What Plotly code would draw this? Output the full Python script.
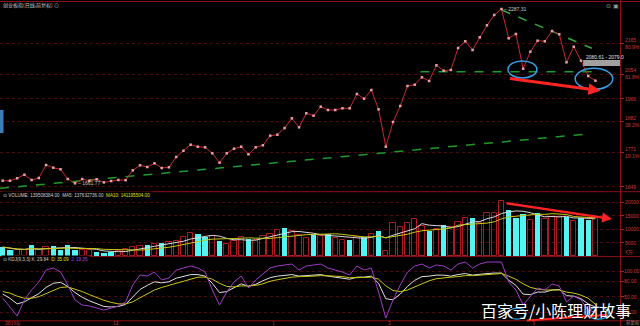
import plotly.graph_objects as go
import pandas as pd
import numpy as np

# ---------------- data ----------------
close = [1671.1, 1671.0, 1679.7, 1692.6, 1673.6, 1680.8, 1727.4, 1717.7, 1712.0, 1677.2,
         1661.77, 1677.0, 1671.0, 1676.1, 1665.0, 1670.0, 1673.6, 1673.0, 1708.4, 1726.3,
         1720.2, 1733.5, 1716.6, 1719.2, 1756.1, 1778.7, 1800.3, 1793.1, 1790.9, 1769.4,
         1735.7, 1769.4, 1785.9, 1793.1, 1765.8, 1790.9, 1798.1, 1832.6, 1836.2, 1860.2,
         1895.0, 1862.7, 1913.0, 1904.4, 1936.7, 1924.8, 1924.8, 1930.9, 1930.9, 1982.2,
         1965.4, 1996.6, 1927.3, 1793.1, 1881.7, 1939.2, 2010.9, 2015.6, 2042.2, 2028.9,
         2085.2, 2065.9, 2068.4, 2147.3, 2171.4, 2140.2, 2185.7, 2228.8, 2265.8, 2287.31,
         2182.1, 2197.6, 2073.0, 2134.0, 2173.5, 2171.4, 2208.3, 2196.5, 2096.0, 2152.0,
         2101.7, 2046.8, 2030.0]

volume = [3300, 2300, 2100, 2100, 3900, 2100, 3300, 3800, 2100, 4100,
          2400, 2100, 2300, 1400, 1100, 1400, 1800, 2600, 3300, 3600,
          4100, 4500, 5000, 5100, 5600, 7100, 8600, 8100, 6900, 7500,
          5700, 4500, 5400, 7100, 6300, 6000, 7500, 8100, 9800, 10400,
          9300, 7800, 6600, 8100, 7500, 8000, 6600, 6000, 6000, 7100,
          7200, 8100, 9300, 1800, 12100, 10900, 12100, 13600, 11200, 9300,
          10100, 11300, 10900, 12700, 13900, 14200, 12100, 16100, 16100, 20200,
          17200, 13900, 15400, 13500, 16000, 13800, 14500, 14580, 14600, 12800,
          14100, 13365, 13951]

down_days = [0, 1, 4, 7, 8, 9, 10, 13, 14, 15, 20, 22, 27, 28, 30, 34, 39, 43, 45,
             48, 50, 52, 59, 61, 65, 70, 71, 72, 74, 78, 80, 81]

kdj_k = [55, 47, 36, 40, 48, 56, 68, 76, 78, 70, 58, 49, 42, 36, 31, 30, 31, 35, 50, 64,
         72, 79, 77, 79, 86, 90, 93, 93, 90, 76, 58, 60, 67, 75, 70, 74, 81, 87, 90, 92,
         93, 90, 91, 92, 93, 90, 88, 86, 84, 88, 88, 90, 76, 46, 44, 55, 70, 82, 89, 90,
         92, 92, 90, 93, 95, 92, 94, 95, 96, 96, 82, 72, 55, 54, 59, 59, 63, 64, 52, 51,
         46, 36, 29.84]
kdj_d = [60, 57, 51, 47, 47, 50, 56, 62, 68, 69, 65, 60, 54, 48, 43, 39, 36, 36, 40, 48,
         56, 63, 68, 72, 77, 81, 85, 88, 88, 84, 76, 70, 69, 71, 71, 72, 75, 80, 83, 86,
         88, 89, 89, 90, 91, 91, 90, 89, 87, 87, 88, 88, 84, 71, 62, 60, 63, 69, 76, 81,
         85, 87, 88, 89, 91, 91, 92, 93, 94, 95, 90, 84, 75, 68, 65, 63, 63, 63, 59, 57,
         53, 47, 35.09]
kdj_j = [47.5, 30, 12.5, 43.6, 63, 78.6, 101.9, 105.8, 98, 72.8, 43.6, 33.9, 31.9, 28, 24.1,
         28, 31.9, 39.7, 72.8, 92.2, 90.3, 98, 82.5, 86.4, 101.9, 105.8, 109.7, 105.8, 98, 63,
         33.9, 59.1, 78.6, 90.3, 66.9, 82.5, 94.2, 105.8, 109.7, 111.7, 113.6, 101.9, 109.7,
         111.7, 113.6, 105.8, 101.9, 98, 92.2, 109.7, 101.9, 105.8, 59.1, 8.6, 43.6, 72.8, 98,
         109.7, 113.6, 105.8, 111.7, 109.7, 101.9, 113.6, 117.5, 105.8, 113.6, 117.5, 117.5,
         117.5, 78.6, 63, 33.9, 51.4, 66.9, 63, 74.7, 70.8, 39.7, 51.4, 43.6, 24.1, 19.35]

x_tick_idx = [0, 15, 37, 53, 73]
x_tick_txt = ["2019年", "12", "1", "2", "3"]

price_ticks = [2165, 2054, 1966, 1882, 1771, 1649]
price_tick_txt = ["2165<br>80.9%", "2054<br>61.8%", "1966", "1882<br>38.2%", "1771<br>19.1%", "1649"]
vol_ticks = [20000, 15000, 10000, 5000]
kdj_ticks = [100, 80, 50, 20]

# drawn trend lines (index, price)
support_x, support_y = [-0.37, 80.4], [1643.8, 1837.6]
neck_x, neck_y = [57.8, 82.4], [2062.3, 2062.3]
resist_x, resist_y = [69.05, 81.5], [2283.7, 2146.2]

n = len(close)
idx = list(range(n))

# volume moving averages
vs = pd.Series(volume, dtype=float)
ma5 = vs.rolling(5, min_periods=1).mean()
ma10 = vs.rolling(10, min_periods=1).mean()

# ---------------- figure ----------------
W, H = 640, 326
def py(pix):  # pixel row -> paper y
    return 1 - pix / H

XR = [-0.374, 85.4]
XD = [0, 620 / W]

fig = go.Figure()

RED = "#c82830"
fig.add_trace(go.Scatter(x=support_x, y=support_y, mode="lines",
                         line=dict(color="#1f9a2a", width=1.5, dash="dash"), xaxis="x", yaxis="y"))
fig.add_trace(go.Scatter(x=neck_x, y=neck_y, mode="lines",
                         line=dict(color="#1f9a2a", width=1.5, dash="dash"), xaxis="x", yaxis="y"))
fig.add_trace(go.Scatter(x=resist_x, y=resist_y, mode="lines",
                         line=dict(color="#3aa83a", width=1.5, dash="dash"), xaxis="x", yaxis="y"))
fig.add_trace(go.Scatter(x=idx, y=close, mode="lines+markers",
                         line=dict(color=RED, width=1),
                         marker=dict(symbol="square", size=2.5, color="#eaa0a4", line=dict(width=0)),
                         xaxis="x", yaxis="y"))

up_x = [i for i in idx if i not in down_days]
dn_x = [i for i in idx if i in down_days]
fig.add_trace(go.Bar(x=up_x, y=[volume[i] for i in up_x], width=0.74,
                     marker=dict(color="rgba(0,0,0,0)", line=dict(color="#a81c22", width=1)),
                     xaxis="x2", yaxis="y2"))
fig.add_trace(go.Bar(x=dn_x, y=[volume[i] for i in dn_x], width=0.74,
                     marker=dict(color="#54f4f4", line=dict(width=0)),
                     xaxis="x2", yaxis="y2"))
fig.add_trace(go.Scatter(x=idx, y=ma5, mode="lines", line=dict(color="#d8d8d8", width=1),
                         xaxis="x2", yaxis="y2"))
fig.add_trace(go.Scatter(x=idx, y=ma10, mode="lines", line=dict(color="#c8c814", width=1),
                         xaxis="x2", yaxis="y2"))

fig.add_trace(go.Scatter(x=idx, y=kdj_k, mode="lines", line=dict(color="#e0e0e0", width=1),
                         xaxis="x3", yaxis="y3"))
fig.add_trace(go.Scatter(x=idx, y=kdj_d, mode="lines", line=dict(color="#c8c814", width=1),
                         xaxis="x3", yaxis="y3"))
fig.add_trace(go.Scatter(x=idx, y=kdj_j, mode="lines", line=dict(color="#a03cc8", width=1),
                         xaxis="x3", yaxis="y3"))

grid = dict(showgrid=True, gridcolor="#4a0c10", griddash="dot", gridwidth=1)
common_y = dict(side="right", zeroline=False, showticklabels=False, ticks="outside",
                ticklen=3, tickcolor="#b02020", showline=False, fixedrange=True)
common_x = dict(range=XR, domain=XD, showgrid=False, zeroline=False, showticklabels=False,
                showline=False, fixedrange=True)

fig.update_layout(
    width=W, height=H, margin=dict(l=0, r=0, t=0, b=0),
    paper_bgcolor="#000000", plot_bgcolor="#000000", showlegend=False,
    barmode="overlay", bargap=0,
    xaxis=dict(anchor="y", **common_x),
    xaxis2=dict(anchor="y2", **common_x),
    xaxis3=dict(anchor="y3", **common_x),
    yaxis=dict(anchor="x", domain=[py(191), py(3)], range=[1634.1, 2308.8],
               tickvals=price_ticks, **grid, **common_y),
    yaxis2=dict(anchor="x2", domain=[py(256), py(192)], range=[0, 23704],
                tickvals=vol_ticks, **grid, **common_y),
    yaxis3=dict(anchor="x3", domain=[py(321), py(258)], range=[2.7, 125.3],
                tickvals=kdj_ticks, **grid, **common_y),
)

shapes = []
line_col = "#8c1016"
for pix in [1.5, 191.7, 256.6, 320.8]:
    shapes.append(dict(type="line", xref="paper", yref="paper", x0=0, x1=1, y0=py(pix), y1=py(pix),
                       line=dict(color=line_col, width=1)))
shapes.append(dict(type="line", xref="paper", yref="paper", x0=620.5 / W, x1=620.5 / W, y0=0, y1=1,
                   line=dict(color=line_col, width=1)))
shapes.append(dict(type="rect", xref="paper", yref="paper", x0=0, x1=3.5 / W, y0=py(133), y1=py(110),
                   fillcolor="#3c7cb8", line=dict(width=0)))
BLUE = "#3a9ee6"
shapes.append(dict(type="circle", xref="x", yref="y", x0=69.9, x1=73.9, y0=2039.7, y1=2100.7,
                   line=dict(color=BLUE, width=1.5)))
shapes.append(dict(type="circle", xref="x", yref="y", x0=79.2, x1=84.4, y0=1999.1, y1=2074.5,
                   line=dict(color=BLUE, width=1.5)))
shapes.append(dict(type="circle", xref="x3", yref="y3", x0=69.9, x1=72.4, y0=6.2, y1=27.6,
                   line=dict(color=BLUE, width=1.2)))
shapes.append(dict(type="circle", xref="x3", yref="y3", x0=81.0, x1=83.8, y0=6.2, y1=29.6,
                   line=dict(color=BLUE, width=1.2)))
shapes.append(dict(type="rect", xref="x", yref="y", x0=80.3, x1=85.4, y0=2082.7, y1=2104.3,
                   fillcolor="#a0a0a0", line=dict(width=0)))
fig.update_layout(shapes=shapes)

ann = []
FN = "Liberation Sans"
CJK = "Noto Sans CJK SC"
AX_RED = "#d03838"
for v, t in zip(price_ticks, price_tick_txt):
    ann.append(dict(xref="paper", yref="y", x=622.5 / W, y=v, text=t, showarrow=False, xanchor="left",
                    yanchor="middle", align="left", font=dict(family=FN, size=5, color=AX_RED)))
for v in vol_ticks:
    ann.append(dict(xref="paper", yref="y2", x=622.5 / W, y=v, text=str(v), showarrow=False,
                    xanchor="left", yanchor="middle", font=dict(family=FN, size=5, color=AX_RED)))
ann.append(dict(xref="paper", yref="y2", x=622.5 / W, y=1300, text="X万", showarrow=False,
                xanchor="left", yanchor="middle", font=dict(family=CJK, size=5, color=AX_RED)))
for v in kdj_ticks:
    ann.append(dict(xref="paper", yref="y3", x=622 / W, y=v, text=f"{v:.2f}", showarrow=False,
                    xanchor="left", yanchor="middle", font=dict(family=FN, size=5, color=AX_RED)))
for i, t in zip(x_tick_idx, x_tick_txt):
    ann.append(dict(xref="x3", yref="paper", x=i, y=py(322.8), text=t, showarrow=False,
                    xanchor="left", yanchor="middle", font=dict(family=CJK, size=5, color=AX_RED)))
ann.append(dict(xref="paper", yref="paper", x=624 / W, y=py(322.8), text="前复权", showarrow=False,
                xanchor="left", yanchor="middle", font=dict(family=CJK, size=4.5, color="#909090")))

ann.append(dict(xref="paper", yref="paper", x=1 / W, y=py(5), text="创业板指(日线,前复权) ⊙",
                showarrow=False, xanchor="left", yanchor="middle",
                font=dict(family=CJK, size=5, color="#c8c8c8")))
ann.append(dict(xref="paper", yref="paper", x=1 / W, y=py(195.5),
                text="⊙ VOLUME: 139508384.00  MA5: 137632736.00  "
                     "<span style='color:#e0e010'>MA10: 141195504.00</span>",
                showarrow=False, xanchor="left", yanchor="middle", bgcolor="#000000",
                font=dict(family=FN, size=4.6, color="#d0d0d0")))
ann.append(dict(xref="paper", yref="paper", x=1 / W, y=py(259.5),
                text="⊙ KDJ(9,3,3) K: 29.84  <span style='color:#e0e010'>D: 35.09</span>  "
                     "<span style='color:#b048e0'>J: 19.35</span>",
                showarrow=False, xanchor="left", yanchor="middle", bgcolor="#000000",
                font=dict(family=FN, size=4.6, color="#d0d0d0")))
ann.append(dict(xref="paper", yref="paper", x=612 / W, y=py(5), text="⊙ ▣", showarrow=False,
                xanchor="center", yanchor="middle", font=dict(family="DejaVu Sans", size=6, color="#a0a0a0")))

peak_i = int(np.argmax(close)); low_i = int(np.argmin(close))
ann.append(dict(xref="x", yref="y", x=peak_i, y=close[peak_i], text="‒ " + f"{close[peak_i]:.2f}",
                showarrow=False, xanchor="left", yanchor="middle", xshift=1,
                font=dict(family=FN, size=5, color="#c8c8c8")))
ann.append(dict(xref="x", yref="y", x=low_i, y=close[low_i], text="‒ " + f"{close[low_i]:.2f}",
                showarrow=False, xanchor="left", yanchor="middle", xshift=1,
                font=dict(family=FN, size=5, color="#c8c8c8")))
ann.append(dict(xref="x", yref="y", x=80.4, y=2115, text="2080.61 - 2079.0", showarrow=False,
                xanchor="left", yanchor="middle", font=dict(family=FN, size=5, color="#e0e0e0")))

ann.append(dict(xref="x", yref="y", axref="x", ayref="y", x=82.7, y=1994.1, ax=69.96, ay=2038.6,
                showarrow=True, arrowhead=2, arrowsize=0.8, arrowwidth=3, arrowcolor="#ff2424", text=""))
ann.append(dict(xref="x2", yref="y2", axref="x2", ayref="y2", x=84.3, y=13700, ax=69.5, ay=19630,
                showarrow=True, arrowhead=2, arrowsize=0.8, arrowwidth=2.5, arrowcolor="#ff2424", text=""))
ann.append(dict(xref="x3", yref="y3", axref="x3", ayref="y3", x=83.3, y=14.4, ax=72.3, ay=3.5,
                showarrow=True, arrowhead=0, arrowwidth=2, arrowcolor="#ff2424", text=""))

ann.append(dict(xref="paper", yref="paper", x=556 / W, y=py(310), text="百家号/小陈理财故事",
                showarrow=False, xanchor="center", yanchor="middle",
                font=dict(family=CJK, size=16, color="#ffffff")))

fig.update_layout(annotations=ann)
fig.write_html("out.html")
